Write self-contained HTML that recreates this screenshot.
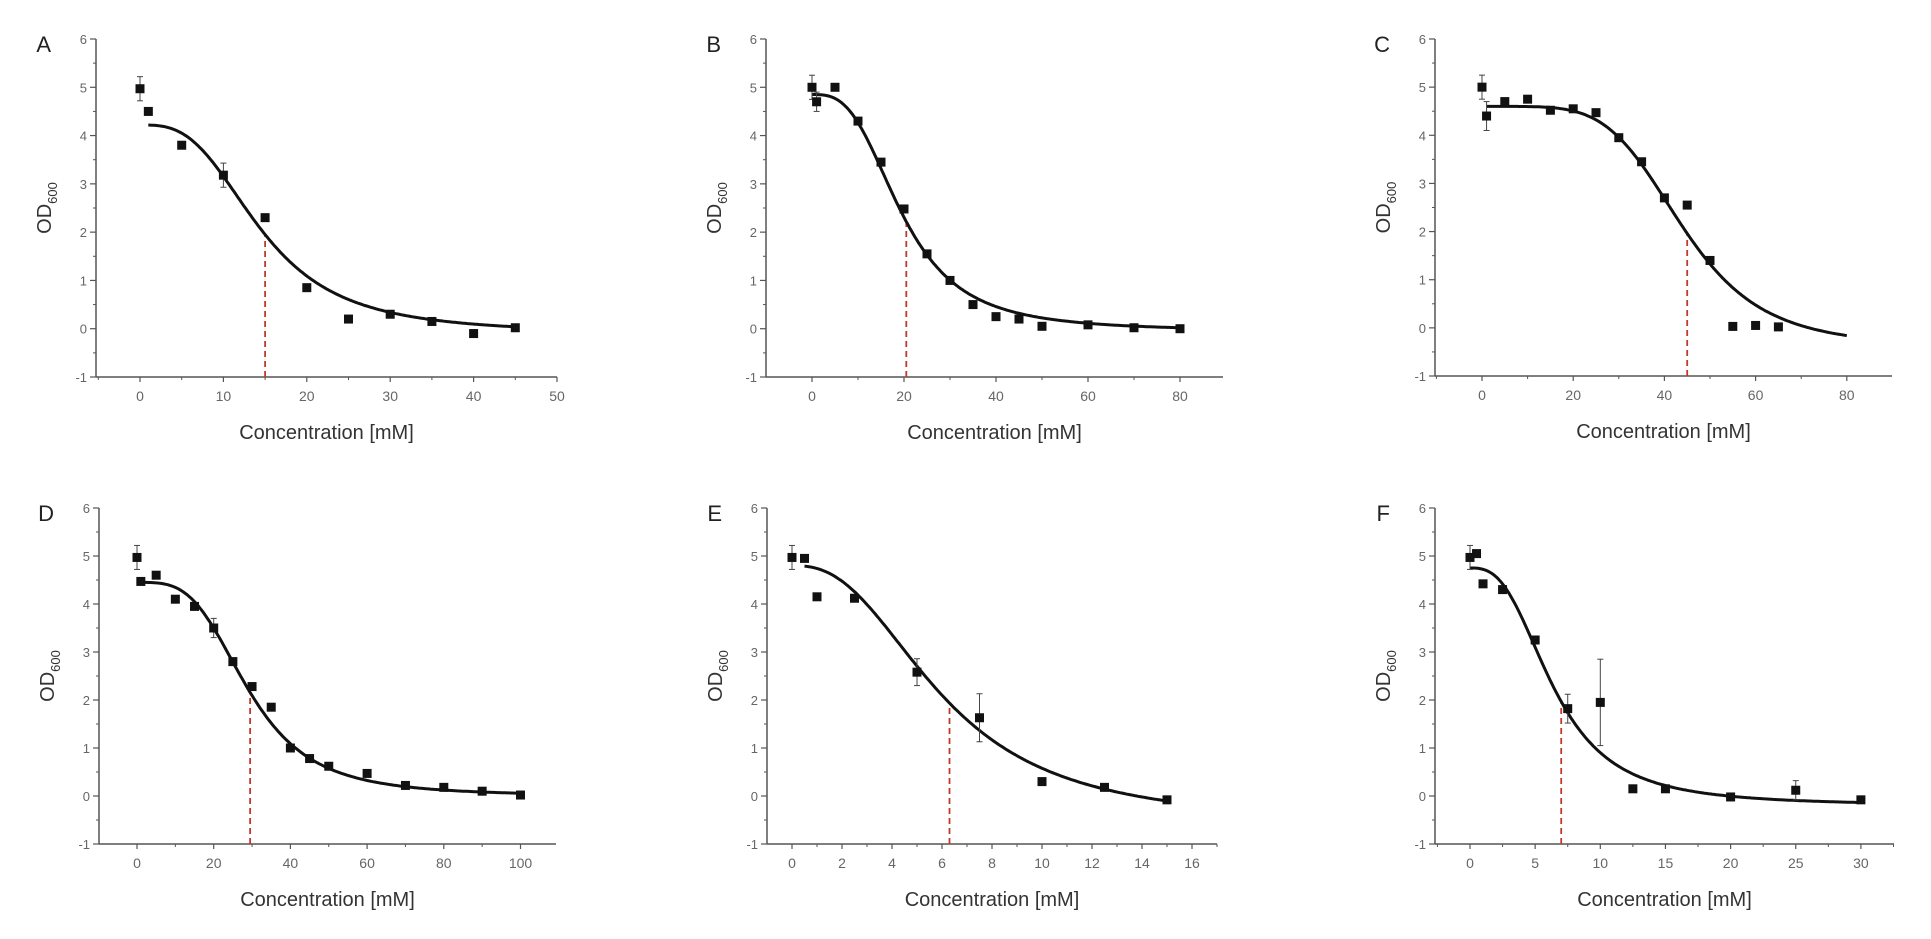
<!DOCTYPE html>
<html><head><meta charset="utf-8"><style>
html,body{margin:0;padding:0;background:#fff;}
svg{display:block;}
</style></head><body>
<svg id="s" width="1931" height="939" xmlns="http://www.w3.org/2000/svg" font-family="Liberation Sans, Arial, sans-serif"></svg>
<script>
var S=document.getElementById('s');var out='';
function L(x1,y1,x2,y2,c,w,d){out+='<line x1="'+x1+'" y1="'+y1+'" x2="'+x2+'" y2="'+y2+'" stroke="'+c+'" stroke-width="'+w+'"'+(d?' stroke-dasharray="'+d+'"':'')+'/>';}
function T(x,y,t,sz,c,anc,extra){out+='<text x="'+x+'" y="'+y+'" font-size="'+sz+'" fill="'+c+'" text-anchor="'+anc+'" '+(extra||'')+'>'+t+'</text>';}
var P=[
{l:'A',ax:96,ar:557,x0:140,u:8.34,y6:39,yb:377,xt:[0,10,20,30,40,50],xm:5,
 pts:[[0,4.97,.25],[1,4.5],[5,3.8],[10,3.18,.25],[15,2.3],[20,0.85],[25,0.2],[30,0.3],[35,0.15],[40,-0.1],[45,0.02]],
 f:[4.22,-0.1,14.5,3],cr:[1,45],ic:15},
{l:'B',ax:766,ar:1223,x0:812,u:4.6,y6:39,yb:377,xt:[0,20,40,60,80],xm:10,
 pts:[[0,5.0,.25],[1,4.7,.2],[5,5.0],[10,4.3],[15,3.45],[20,2.48],[25,1.55],[30,1.0],[35,0.5],[40,0.25],[45,0.2],[50,0.05],[60,0.08],[70,0.02],[80,0]],
 f:[4.85,-0.05,19.5,3],cr:[0,80],ic:20.5},
{l:'C',ax:1435,ar:1892,x0:1482,u:4.56,y6:39,yb:376,xt:[0,20,40,60,80],xm:10,
 pts:[[0,5.0,.25],[1,4.4,.3],[5,4.7],[10,4.75],[15,4.52],[20,4.55],[25,4.47],[30,3.95],[35,3.45],[40,2.7],[45,2.55],[50,1.4],[55,0.03],[60,0.05],[65,0.02]],
 f:[4.6,-0.4,44,5],cr:[1,80],ic:45},
{l:'D',ax:99,ar:556,x0:137,u:3.835,y6:508,yb:844,xt:[0,20,40,60,80,100],xm:10,
 pts:[[0,4.97,.25],[1,4.47],[5,4.6],[10,4.1],[15,3.95],[20,3.5,.2],[25,2.8],[30,2.28],[35,1.85],[40,1.0],[45,0.78],[50,0.62],[60,0.47],[70,0.22],[80,0.18],[90,0.1],[100,0.02]],
 f:[4.45,0,29,3.5],cr:[0,100],ic:29.5},
{l:'E',ax:767,ar:1217,x0:792,u:25,y6:508,yb:844,xt:[0,2,4,6,8,10,12,14,16],xm:1,
 pts:[[0,4.97,.25],[0.5,4.95],[1,4.15],[2.5,4.12],[5,2.58,.28],[7.5,1.63,.5],[10,0.3],[12.5,0.18],[15,-0.08]],
 f:[4.8,-0.6,6,2.5],cr:[0.5,15],ic:6.3},
{l:'F',ax:1435,ar:1894,x0:1470,u:13.03,y6:508,yb:844,xt:[0,5,10,15,20,25,30],xm:2.5,
 pts:[[0,4.97,.25],[0.5,5.05],[1,4.42],[2.5,4.3],[5,3.25],[7.5,1.82,.3],[10,1.95,.9],[12.5,0.15],[15,0.15],[20,-0.02],[25,0.12,.2],[30,-0.08]],
 f:[4.75,-0.2,6.4,2.8],cr:[0,30],ic:7}
];
P.forEach(function(p){
 var yu=(p.yb-p.y6)/7;
 function X(v){return p.x0+v*p.u;}
 function Y(v){return p.yb-(v+1)*yu;}
 function F(x){var f=p.f;return f[1]+(f[0]-f[1])/(1+Math.pow(Math.max(x,1e-6)/f[2],f[3]));}
 var g='#555';
 L(p.ax,p.y6,p.ax,p.yb,g,1.5);L(p.ax,p.yb,p.ar,p.yb,g,1.5);
 for(var v=-1;v<=6;v++){L(p.ax-6,Y(v),p.ax,Y(v),g,1.2);T(p.ax-9,Y(v)+5,v,13,'#666','end');
  if(v<6)L(p.ax-3,Y(v+0.5),p.ax,Y(v+0.5),g,1);}
 p.xt.forEach(function(v){L(X(v),p.yb,X(v),p.yb+5,g,1.2);T(X(v),p.yb+24,v,14,'#666','middle');});
 var st=p.xt[1]-p.xt[0];
 for(var v=p.xt[0]-st/2;X(v)<=p.ar;v+=st){if(X(v)>p.ax)L(X(v),p.yb,X(v),p.yb+3,g,1);}
 T(p.ax-45,p.y6+13,p.l,22,'#222','end');
 var cx=(p.ax+p.ar)/2;
 T(cx,p.yb+62,'Concentration [mM]',20,'#333','middle');
 var yy=(p.y6+p.yb)/2,xx=p.ax-45;
 out+='<text transform="translate('+xx+','+yy+') rotate(-90)" font-size="20" fill="#333" text-anchor="middle">OD<tspan font-size="13" dy="6">600</tspan></text>';
 // IC line
 L(X(p.ic),p.yb,X(p.ic),Y(F(p.ic)),'#c0392b',1.8,'6,4');
 // curve
 var d='';for(var i=0;i<=200;i++){var x=p.cr[0]+(p.cr[1]-p.cr[0])*i/200;d+=(i?'L':'M')+X(x).toFixed(1)+','+Y(F(x)).toFixed(1);}
 out+='<path d="'+d+'" fill="none" stroke="#111" stroke-width="3"/>';
 p.pts.forEach(function(q){var x=X(q[0]),y=Y(q[1]);
  if(q[2]){var e=q[2]*yu;L(x,y-e,x,y+e,'#444',1);L(x-3,y-e,x+3,y-e,'#444',1);L(x-3,y+e,x+3,y+e,'#444',1);}
  out+='<rect x="'+(x-4.5)+'" y="'+(y-4.5)+'" width="9" height="9" fill="#111"/>';});
});
S.innerHTML=out;
</script>
</body></html>
